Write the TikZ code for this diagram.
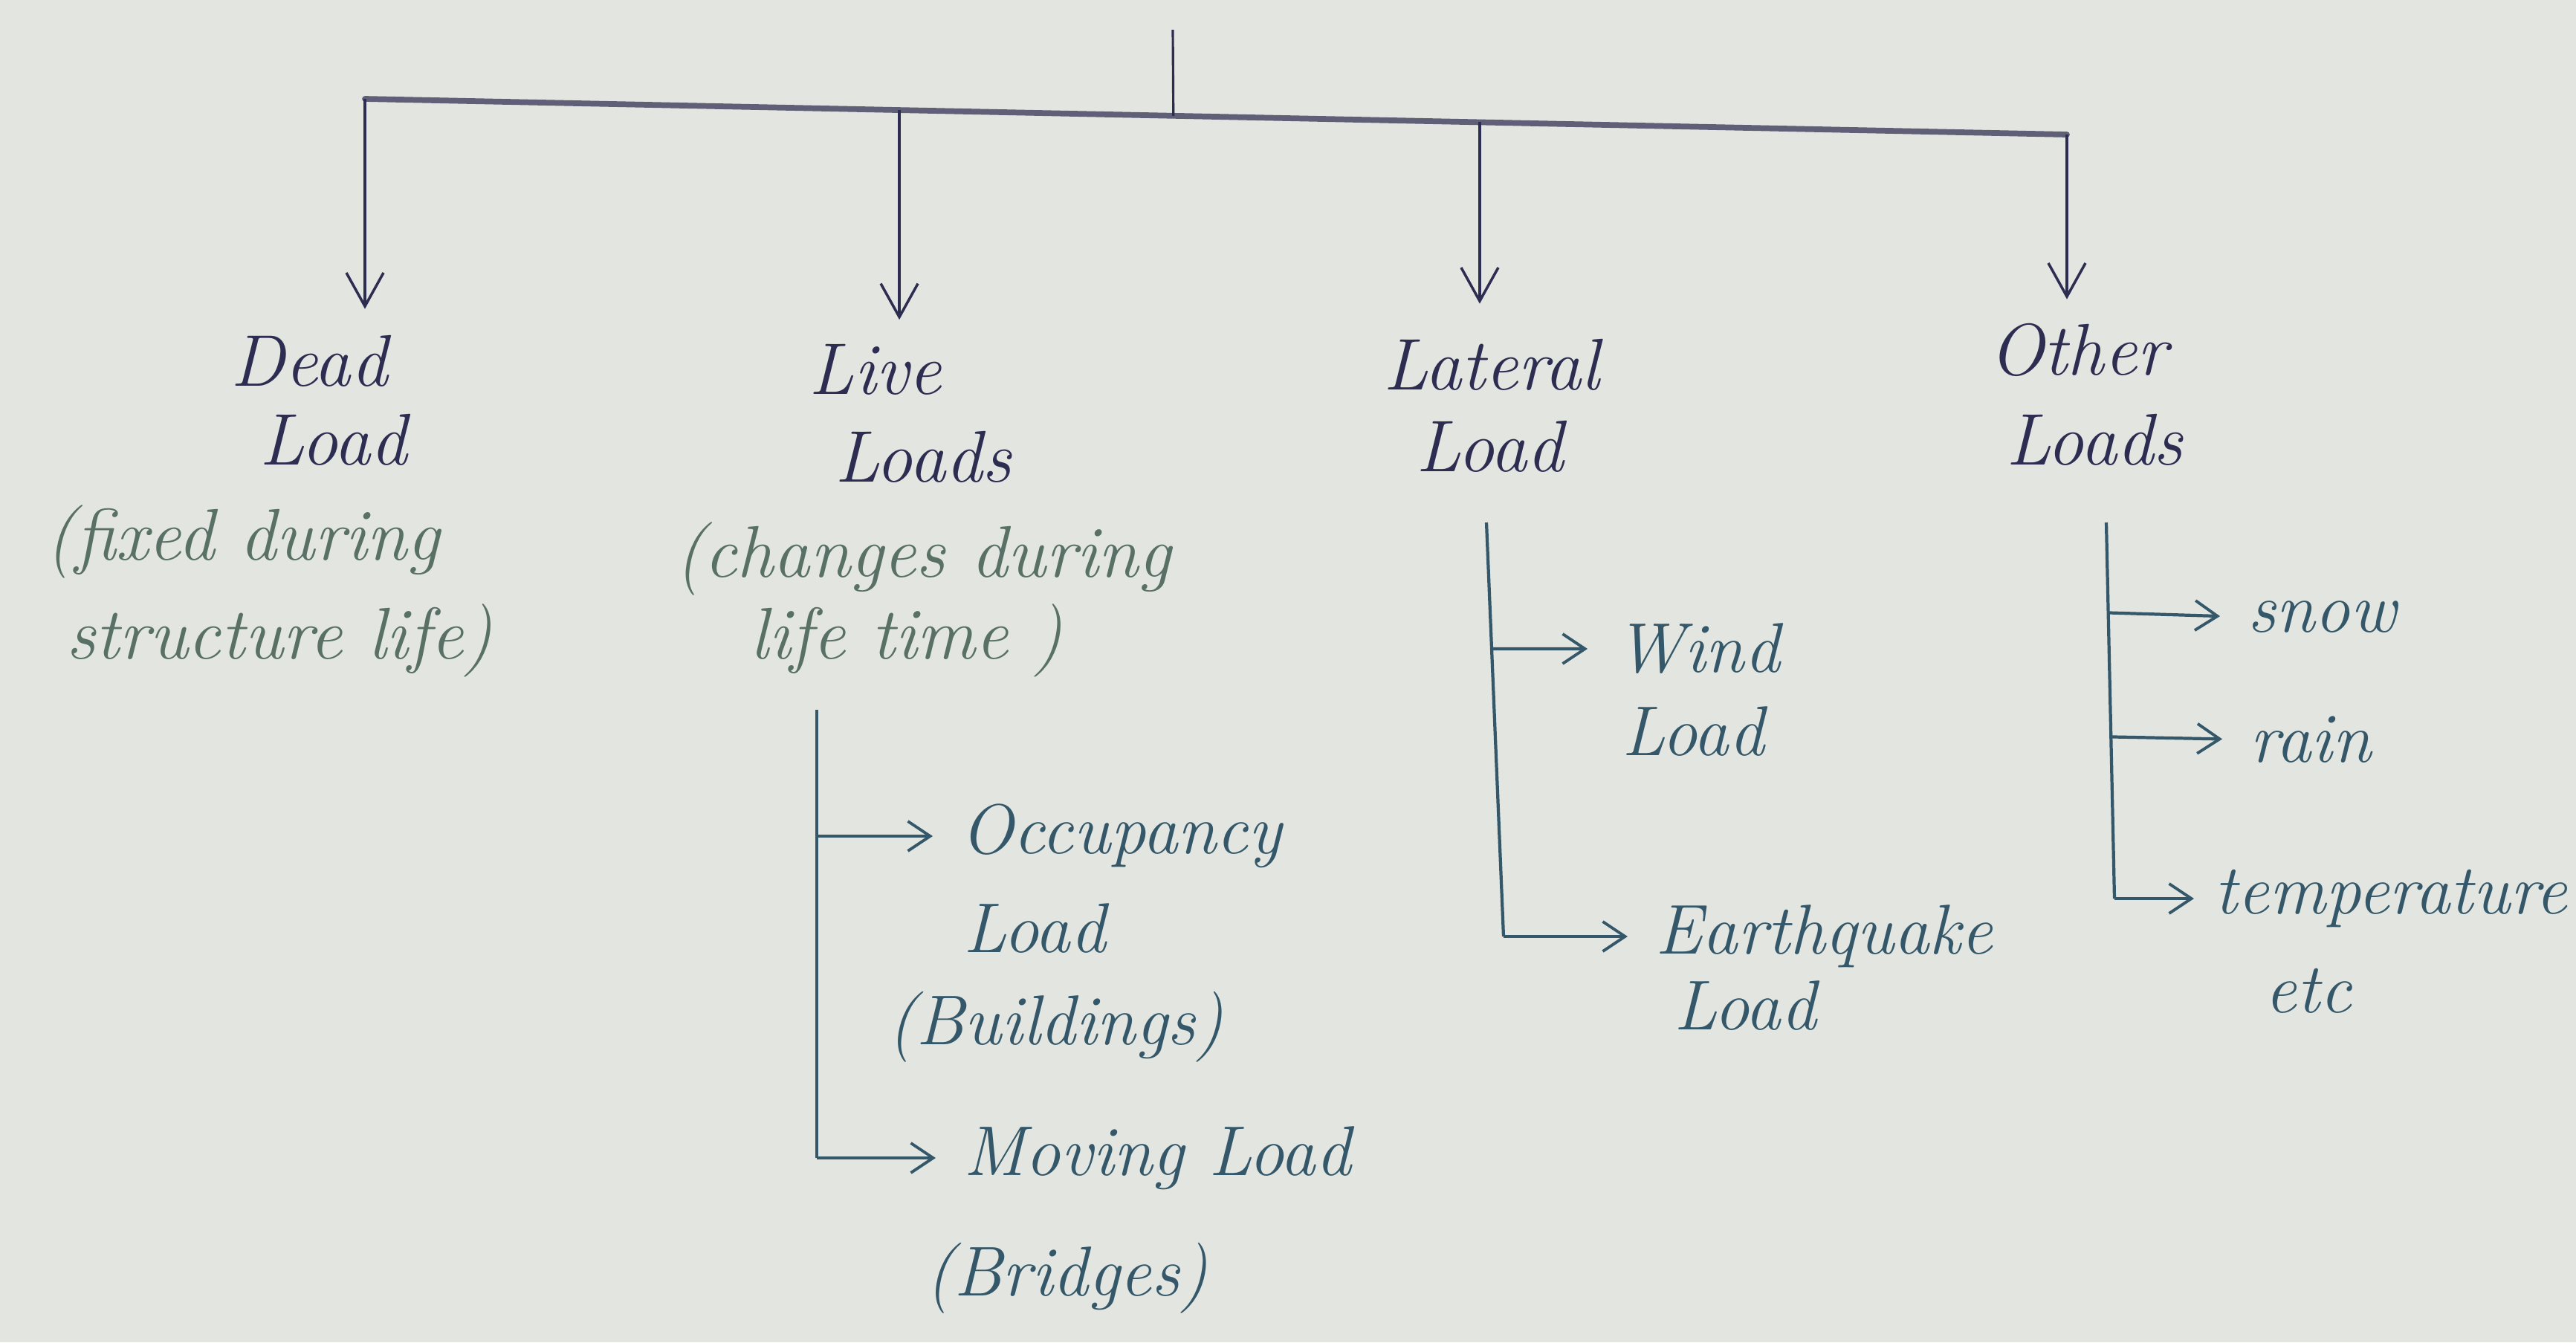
\documentclass[tikz,border=0pt]{standalone}
\usetikzlibrary{arrows.meta,calc}
\definecolor{paper}{RGB}{226,229,224}
\definecolor{ink}{RGB}{45,45,82}
\definecolor{barc}{RGB}{95,95,120}
\definecolor{notec}{RGB}{88,112,102}
\definecolor{subc}{RGB}{52,88,106}
\begin{document}
\begin{tikzpicture}[x=1cm,y=1cm,
  lbl/.style={font=\fontsize{28}{33}\selectfont\itshape, text=ink, inner sep=2pt},
  note/.style={lbl, text=notec},
  sub/.style={font=\fontsize{27}{32}\selectfont\itshape, text=subc, inner sep=2pt},
  drop/.style={draw=ink, line width=0.9pt, -{Straight Barb[length=4.5mm,width=5mm,line width=1pt]}},
  bar/.style={draw=barc, line width=2.2pt, line cap=round},
  stem/.style={draw=ink, line width=0.9pt},
  trunk/.style={draw=subc, line width=1.2pt},
  branch/.style={draw=subc, line width=1.2pt, shorten >=0.3cm, -{Straight Barb[length=3mm,width=4mm,line width=1.1pt]}}]
\fill[paper] (0,0) rectangle (34.66,-18.06);
\useasboundingbox (0,0) rectangle (34.66,-18.06);

% top bar
\coordinate (top) at (15.78,-0.40);
\coordinate (barL) at (4.91,-1.33);
\coordinate (barR) at (27.81,-1.81);
\coordinate (bj) at ($(barL)!0.475!(barR)$);
\coordinate (bLive) at ($(barL)!0.314!(barR)$);
\coordinate (bLat) at ($(barL)!0.655!(barR)$);
\draw[bar] (barL) -- (barR);
\draw[stem] (top) -- (bj);

% level 1 labels
\node[lbl] (dead1) at (4.16,-4.86) {Dead};
\node[lbl] (dead2) at (4.49,-5.92) {Load};
\node[note] (deadn1) at (3.27,-7.29) {(fixed during};
\node[note] (deadn2) at (3.76,-8.62) {structure life)};

\node[lbl] (live1) at (11.78,-4.97) {Live};
\node[lbl] (live2) at (12.42,-6.15) {Loads};
\node[note] (liven1) at (12.42,-7.52) {(changes during};
\node[note] (liven2) at (12.2,-8.62) {life time )};

\node[lbl] (lat1) at (20.07,-4.91) {Lateral};
\node[lbl] (lat2) at (20.05,-6.01) {Load};

\node[lbl] (oth1) at (27.96,-4.71) {Other};
\node[lbl] (oth2) at (28.18,-5.92) {Loads};

% drops
\draw[drop] (barL) -- ($(barL |- dead1.north)+(0,0.28)$);
\draw[drop] (bLive) -- ($(bLive |- live1.north)+(0,0.25)$);
\draw[drop] (bLat) -- ($(bLat |- lat1.north)+(0,0.4)$);
\draw[drop] (barR) -- ($(barR |- oth1.north)+(0,0.25)$);

% Live loads subtree
\coordinate (lvtop) at (10.99,-9.55);
\coordinate (lvbot) at (10.99,-15.58);
\node[sub, anchor=west] (occ1) at (12.85,-11.25) {Occupancy};
\node[sub, anchor=west] (occ2) at (12.89,-12.49) {Load};
\node[sub, anchor=west] (occ3) at (11.87,-13.82) {(Buildings)};
\node[sub, anchor=west] (mov1) at (12.89,-15.58) {Moving Load};
\node[sub, anchor=west] (mov2) at (12.38,-17.2) {(Bridges)};
\draw[trunk] (lvtop) -- (lvbot);
\draw[branch] (lvtop |- occ1.west) -- (occ1.west);
\draw[branch] (lvbot) -- (mov1.west);

% Lateral subtree
\coordinate (ltop) at (20.0,-7.03);
\coordinate (lbot) at (20.23,-12.6);
\node[sub, anchor=west] (wind1) at (21.66,-8.73) {Wind};
\node[sub, anchor=west] (wind2) at (21.75,-9.84) {Load};
\node[sub, anchor=west] (eq1) at (22.2,-12.6) {Earthquake};
\node[sub, anchor=west] (eq2) at (22.45,-13.53) {Load};
\draw[trunk] (ltop) -- (lbot);
\draw[branch] ($(ltop)!0.305!(lbot)$) -- (wind1.west);
\draw[branch] (lbot) -- (eq1.west);

% Other subtree
\coordinate (otop) at (28.34,-7.03);
\coordinate (obot) at (28.45,-12.09);
\node[sub, anchor=west] (snow) at (30.17,-8.3) {snow};
\node[sub, anchor=west] (rain) at (30.2,-9.95) {rain};
\node[sub, anchor=west] (temp) at (29.72,-12.09) {temperature};
\node[sub] (etc) at (31.06,-13.33) {etc};
\draw[trunk] (otop) -- (obot);
\draw[branch] ($(otop)!0.24!(obot)$) -- (snow.west);
\draw[branch] ($(otop)!0.57!(obot)$) -- (rain.west);
\draw[branch, shorten >=0.2cm] (obot) -- (temp.west);
\end{tikzpicture}
\end{document}
